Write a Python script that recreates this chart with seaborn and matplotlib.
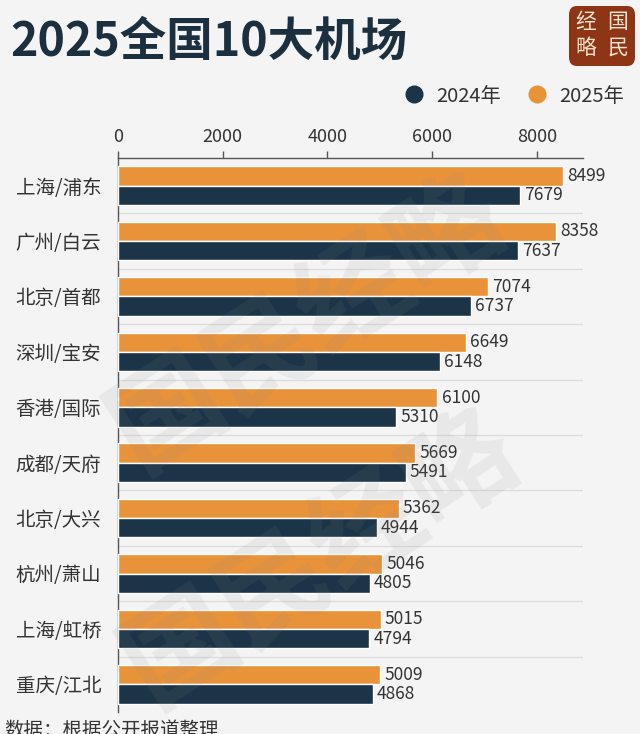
import matplotlib
matplotlib.use("Agg")
import matplotlib.pyplot as plt
import seaborn as sns
import pandas as pd
from matplotlib.patches import FancyBboxPatch
from matplotlib.lines import Line2D

airports = ["上海/浦东", "广州/白云", "北京/首都", "深圳/宝安", "香港/国际",
            "成都/天府", "北京/大兴", "杭州/萧山", "上海/虹桥", "重庆/江北"]
values_2025 = [8499, 8358, 7074, 6649, 6100, 5669, 5362, 5046, 5015, 5009]
values_2024 = [7679, 7637, 6737, 6148, 5310, 5491, 4944, 4805, 4794, 4868]
series = ["2025年", "2024年"]
xticks = [0, 2000, 4000, 6000, 8000]

BG = "#f4f4f4"
ORANGE = "#E8923A"
NAVY = "#1B3447"
TEXT = "#333333"

sns.set_theme(style="white")
plt.rcParams['font.family'] = ['Noto Sans CJK SC', 'DejaVu Sans']
plt.rcParams['axes.unicode_minus'] = False

df = pd.DataFrame({
    "airport": airports * 2,
    "year": [series[0]] * len(airports) + [series[1]] * len(airports),
    "value": values_2025 + values_2024,
})

fig = plt.figure(figsize=(6.4, 7.34), dpi=100, facecolor=BG)
ax = fig.add_axes([118/640, 1-712/734, (583-118)/640, (712-158)/734])
ax.set_facecolor("none")

# watermark
wm_kw = dict(color="#8a8a8a", alpha=0.11, fontsize=80, fontweight="bold",
             rotation=33, ha="center", va="center", zorder=0,
             transform=fig.transFigure)
fig.text(0.48, 0.56, "国民经略", **wm_kw)
fig.text(0.50, 0.24, "国民经略", **wm_kw)

sns.barplot(data=df, y="airport", x="value", hue="year", order=airports,
            hue_order=series, palette=[ORANGE, NAVY], orient="h",
            width=0.7, saturation=1, ax=ax, legend=False, zorder=3)

for cont in ax.containers:
    ax.bar_label(cont, fmt="%d", padding=3, fontsize=12.5, color=TEXT)

ax.set_xlim(0, 8880)
ax.set_ylim(len(airports) - 0.5, -0.5)
ax.set_xticks(xticks)
ax.xaxis.tick_top()
ax.tick_params(axis="x", direction="out", length=5, width=1, color="#555555",
               labelsize=13, labelcolor=TEXT, pad=4)
ax.tick_params(axis="y", which="major", length=0, labelsize=14, labelcolor=TEXT, pad=12)
ax.set_yticks([i + 0.5 for i in range(len(airports) - 1)], minor=True)
ax.tick_params(axis="y", which="minor", direction="out", length=5, width=1, color="#555555")
for i in range(len(airports) - 1):
    ax.axhline(i + 0.5, color="#dddddd", lw=1, zorder=1)
ax.set_xlabel("")
ax.set_ylabel("")
for s in ["right", "bottom"]:
    ax.spines[s].set_visible(False)
ax.spines["top"].set_color("#555555")
ax.spines["left"].set_color("#555555")
ax.spines["top"].set_linewidth(1)
ax.spines["left"].set_linewidth(1)

# title
fig.text(10/640, 1-42/734, "2025全国10大机场", fontsize=33.5, fontweight="bold",
         color="#1B2F3E", ha="left", va="center")

# legend
handles = [Line2D([], [], marker="o", ls="", color=NAVY, markersize=12),
           Line2D([], [], marker="o", ls="", color=ORANGE, markersize=12)]
fig.legend(handles, ["2024年", "2025年"], loc="center right",
           bbox_to_anchor=(632/640, 1-96/734), ncol=2, frameon=False,
           fontsize=14.5, handletextpad=0.1, columnspacing=0.8,
           labelcolor=TEXT, borderaxespad=0)

# logo
logo = FancyBboxPatch((569/640, 1-66/734), 66/640, 60/734,
                      boxstyle="round,pad=0,rounding_size=0.012",
                      transform=fig.transFigure, facecolor="#8E3516",
                      edgecolor="none", zorder=5)
fig.patches.append(logo)
for ch, (x, y) in zip(["经", "国", "略", "民"],
                      [(586, 22), (618, 22), (586, 48), (618, 48)]):
    fig.text(x/640, 1-y/734, ch, fontsize=15, color="#F3E3CF",
             ha="center", va="center", zorder=6)

# footnote
fig.text(4/640, 1-730/734, "数据：根据公开报道整理", fontsize=14, color=TEXT,
         ha="left", va="center")

fig.savefig("out.png", dpi=100, facecolor=BG)
